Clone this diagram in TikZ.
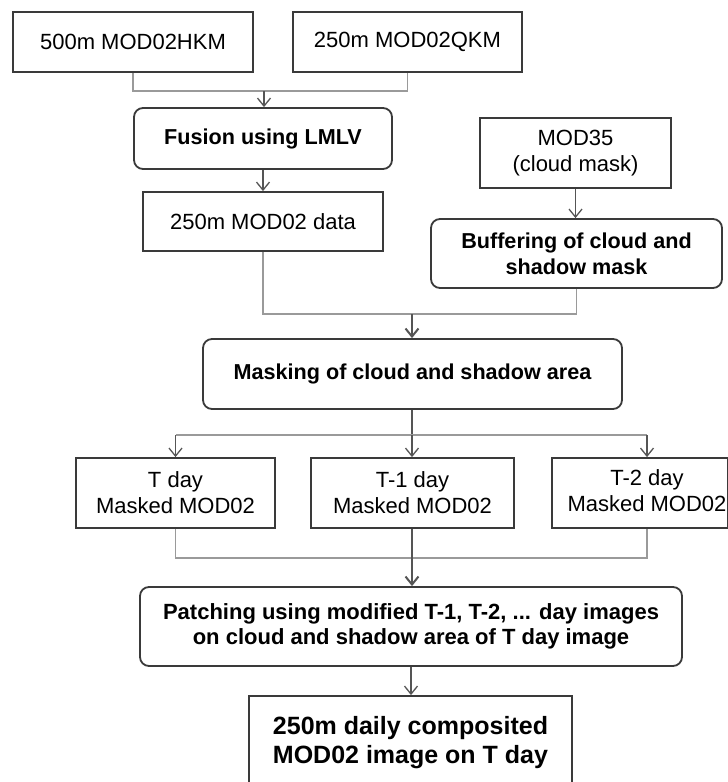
\documentclass[tikz,border=0pt]{standalone}
\usepackage{fontspec}
\setmainfont{Liberation Sans}
\usetikzlibrary{arrows.meta}
\definecolor{boxc}{HTML}{3A3A3A}
\definecolor{linec}{HTML}{9A9A9A}
\definecolor{arrc}{HTML}{555555}
\begin{document}
\begin{tikzpicture}[x=1pt,y=-1pt,
  box/.style={draw=boxc, line width=1.8pt, fill=white, align=center, inner sep=0pt,
    font=\fontsize{22}{26}\selectfont},
  rbox/.style={box, rounded corners=9pt, font=\fontsize{21.6}{26}\selectfont\bfseries},
  conn/.style={draw=linec, line width=1.3pt},
  arr/.style={draw=arrc, line width=1.3pt, -{Straight Barb[length=8pt,width=13pt]}},
  thickarr/.style={arr, line width=2pt},
]
\useasboundingbox (0,0) rectangle (728,782);

\node[box, minimum width=240pt, minimum height=60pt] (A) at (133,42) {500m MOD02HKM};
\node[box, minimum width=229pt, minimum height=60pt] (B) at (407.5,42) {250m MOD02QKM};
\node[rbox, minimum width=258pt, minimum height=61pt] (F) at (263,138.5) {Fusion using LMLV};
\node[box, minimum width=191pt, minimum height=70pt] (M35) at (575.5,153) {MOD35\\(cloud mask)};
\node[box, minimum width=240pt, minimum height=59pt] (D) at (263,221.5) {250m MOD02 data};
\node[rbox, minimum width=291pt, minimum height=69pt] (Buf) at (576.5,253.5) {Buffering of cloud and\\shadow mask};
\node[rbox, minimum width=419pt, minimum height=70pt] (Mask) at (412.5,374) {Masking of cloud and shadow area};
\node[box, minimum width=199pt, minimum height=70pt] (T0) at (175.5,493) {T day\\Masked MOD02};
\node[box, minimum width=203pt, minimum height=70pt] (T1) at (412.5,493) {T-1 day\\Masked MOD02};
\node[box, minimum width=176pt, minimum height=70pt] (T2) at (640,493)
  {\hspace*{14pt}\begin{tabular}{@{}c@{}}T-2 day\\Masked MOD02\end{tabular}};
\node[rbox, minimum width=542pt, minimum height=79pt, font=\fontsize{22}{25}\selectfont\bfseries] (P) at (411,626.5)
  {Patching using modified T-1, T-2, ... day images\\on cloud and shadow area of T day image};
\node[box, minimum width=323pt, minimum height=94pt, font=\fontsize{25}{29}\selectfont\bfseries] (Fin) at (410.5,743)
  {250m daily composited\\MOD02 image on T day};

\coordinate (j1) at (264,91);
\draw[conn] (A.south) -- (A.south |- j1) -- (B.south |- j1) -- (B.south);
\draw[arr] (j1) -- (j1 |- F.north);
\draw[arr] (F.south) -- (D.north);
\draw[arr] (M35.south) -- (M35.south |- Buf.north);

\coordinate (j2) at (412,314);
\draw[conn] (D.south) -- (D.south |- j2) -- (Buf.south |- j2) -- (Buf.south);
\draw[thickarr] (j2) -- (j2 |- Mask.north);

\coordinate (j3) at (412,435);
\draw[arrc, line width=2pt] (j3 |- Mask.south) -- (j3);
\draw[conn] (j3 -| T0.north) -- ([xshift=7pt]j3 -| T2.north);
\draw[arr] (j3 -| T0.north) -- (T0.north);
\draw[arr] (j3) -- (j3 |- T1.north);
\draw[arr] ([xshift=7pt]j3 -| T2.north) -- ([xshift=7pt]T2.north);

\coordinate (j4) at (412,558);
\draw[conn] (T0.south) -- (T0.south |- j4) -- ([xshift=7pt]T2.south |- j4) -- ([xshift=7pt]T2.south);
\draw[arrc, line width=1.3pt] (j3 |- T1.south) -- (j4);
\draw[thickarr] (j4) -- (j4 |- P.north);
\draw[arr] (P.south) -- (P.south |- Fin.north);
\end{tikzpicture}
\end{document}
